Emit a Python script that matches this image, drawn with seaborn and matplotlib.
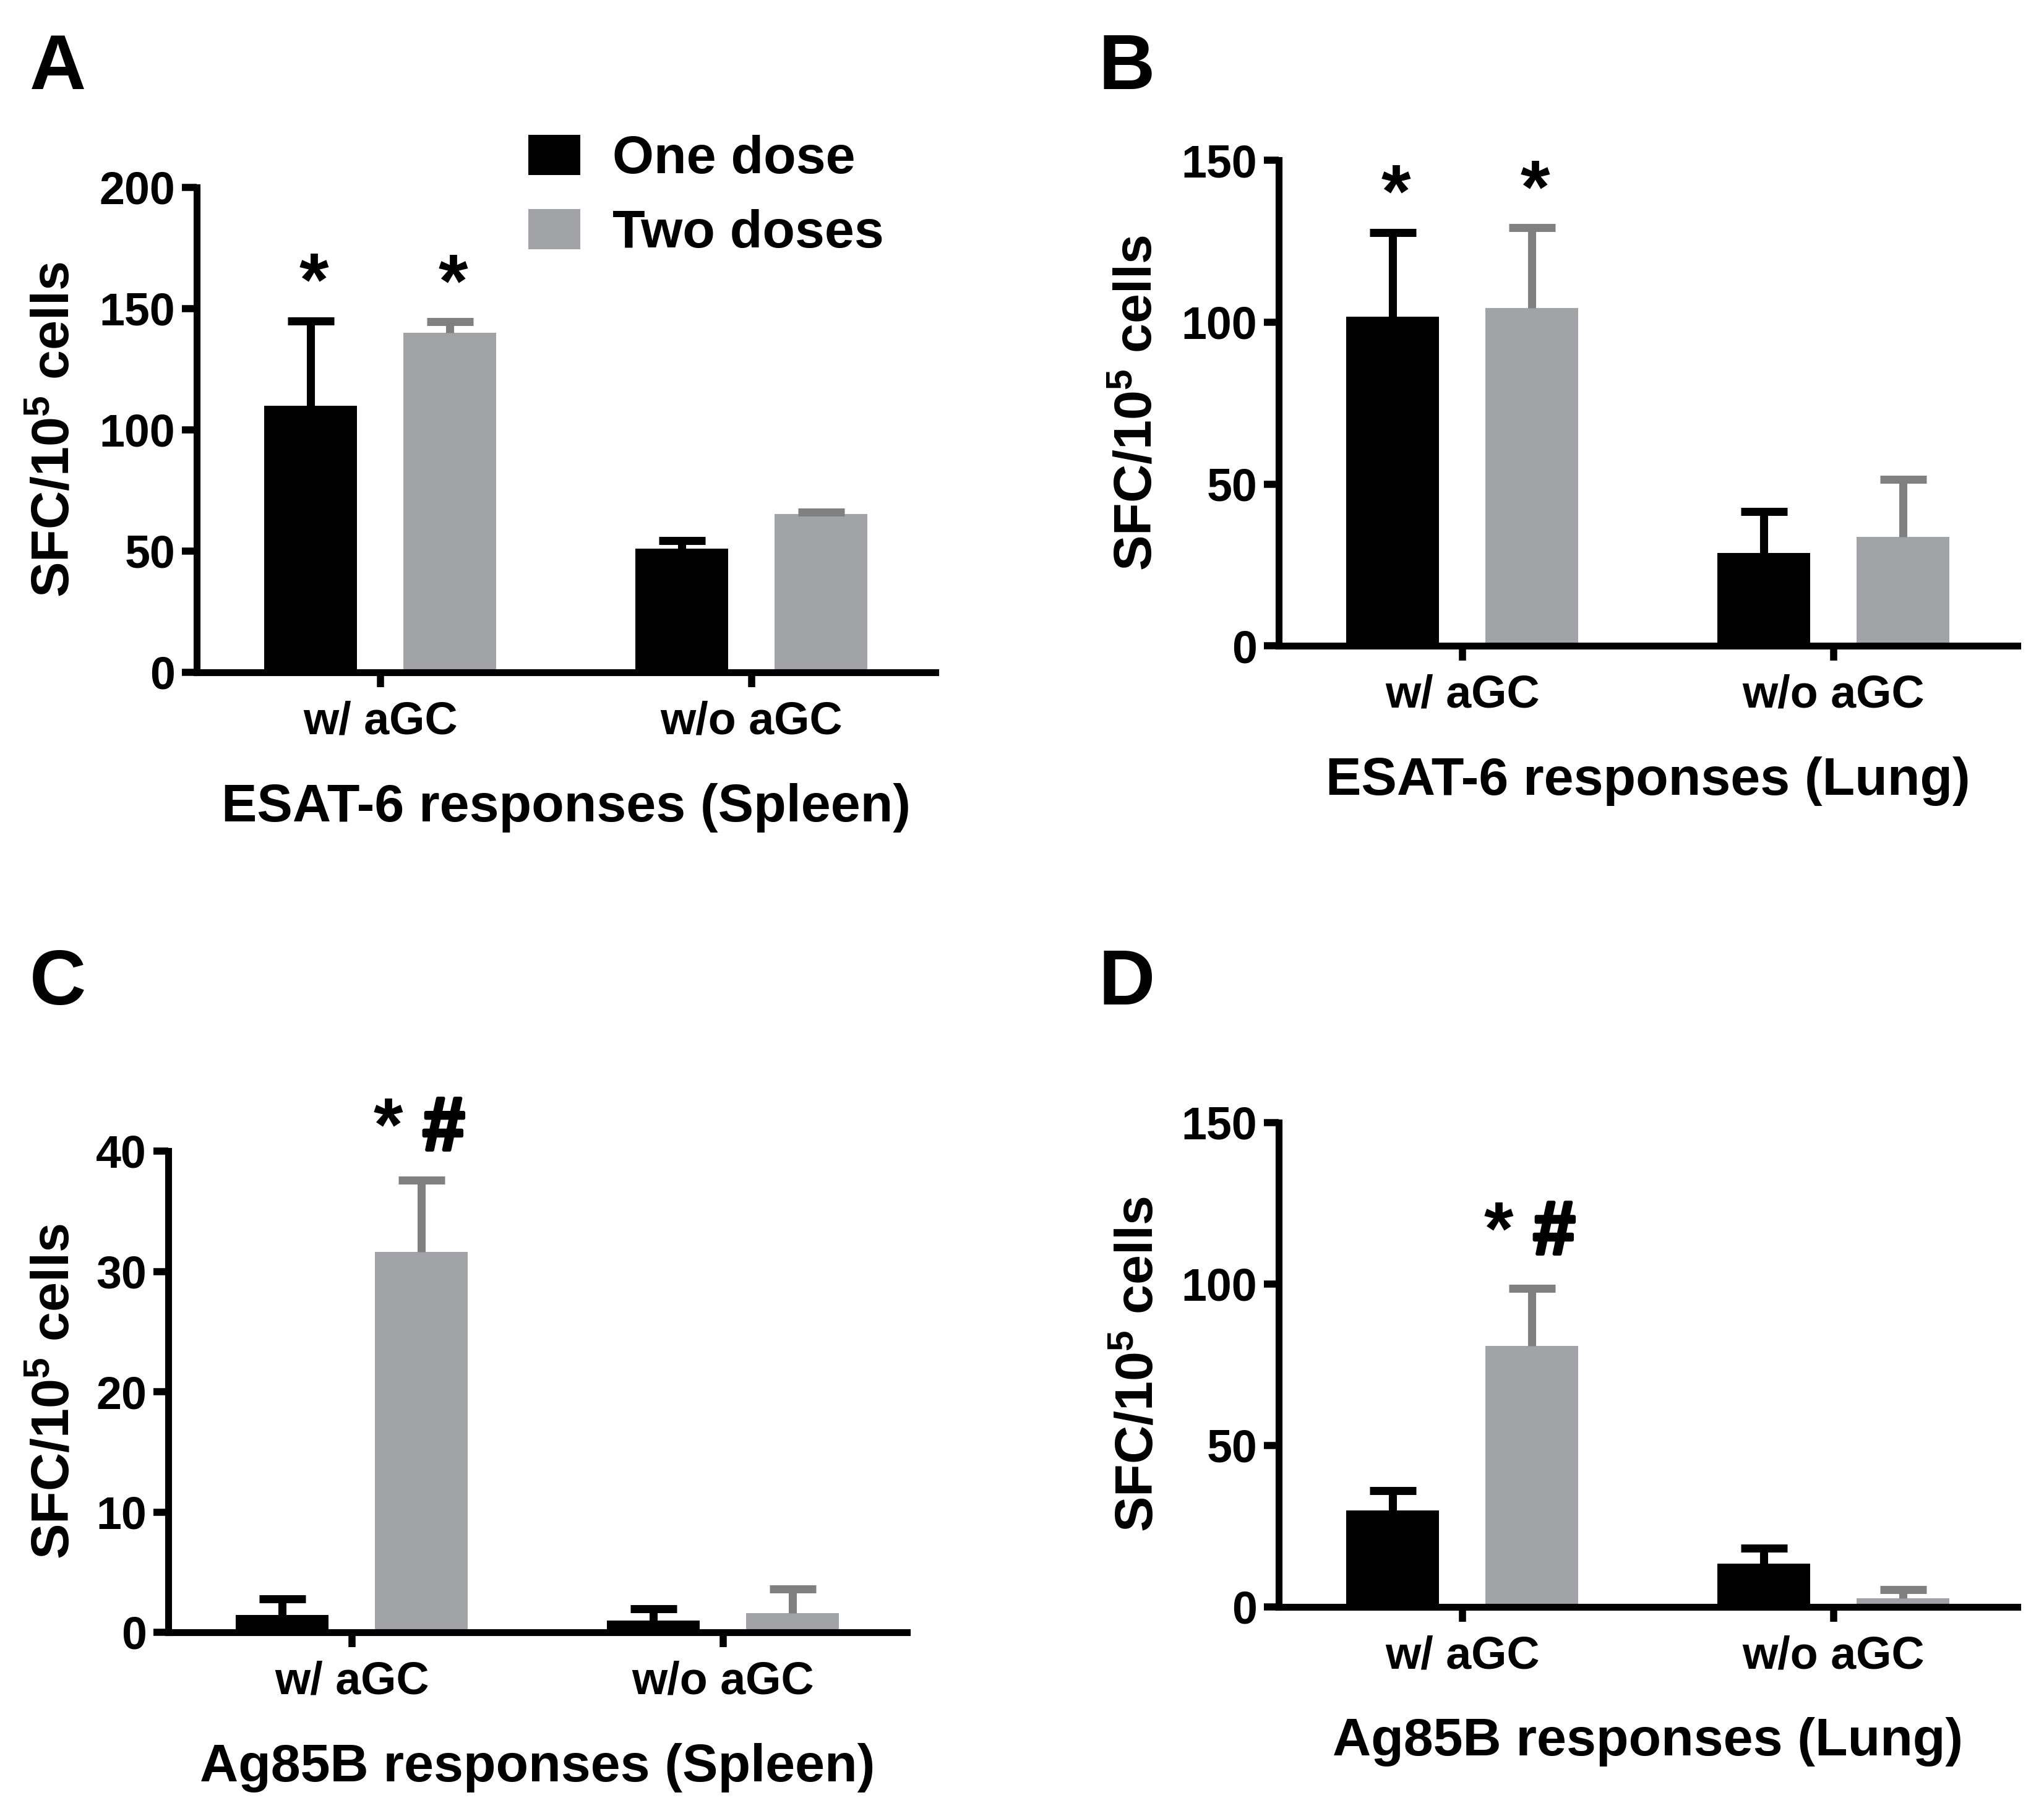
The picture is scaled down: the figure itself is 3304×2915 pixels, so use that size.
import numpy as np
import pandas as pd
import seaborn as sns
import matplotlib.pyplot as plt
import matplotlib.patheffects as pe

sns.set_theme(style='ticks')
plt.rcParams['font.family'] = ['Liberation Sans', 'DejaVu Sans']
plt.rcParams['font.weight'] = 'bold'
plt.rcParams['axes.labelweight'] = 'bold'
plt.rcParams['mathtext.default'] = 'regular'
plt.rcParams['text.color'] = 'black'
plt.rcParams['axes.labelcolor'] = 'black'
plt.rcParams['axes.edgecolor'] = 'black'
plt.rcParams['xtick.color'] = 'black'
plt.rcParams['ytick.color'] = 'black'

# ---------------------------- data (mean, upper SEM) ----------------------------
conditions = ['w/ aGC', 'w/o aGC']
doses = ['One dose', 'Two doses']

esat_spleen_one = [110, 51]
esat_spleen_one_err = [35, 3.3]
esat_spleen_two = [140, 65.3]
esat_spleen_two_err = [4.6, 0.8]

esat_lung_one = [101.7, 28.7]
esat_lung_one_err = [26.1, 12.8]
esat_lung_two = [104.4, 33.6]
esat_lung_two_err = [24.8, 17.8]

ag85_spleen_one = [1.43, 0.97]
ag85_spleen_one_err = [1.34, 0.97]
ag85_spleen_two = [31.6, 1.6]
ag85_spleen_two_err = [6.0, 2.0]

ag85_lung_one = [29.8, 13.3]
ag85_lung_one_err = [6.2, 4.8]
ag85_lung_two = [80.7, 2.6]
ag85_lung_two_err = [17.9, 2.7]

# significance marks per bar
marks_star = ['*', '']
marks_star_hash = ['* #', '']
marks_none = ['', '']

BLACK = '#000000'
GRAY = '#a2a3a7'
ERR_GRAY = '#808080'

# ---------------------------- figure ----------------------------
W, H = 3304, 2915
fig = plt.figure(figsize=(W / 100, H / 100), dpi=100)
AX_W = 1194


def add_axes_px(left, bottom, height):
    return fig.add_axes([left / W, 1 - bottom / H, AX_W / W, height / H])


def mark(ax, text, xy, dx, dy, stroke=False):
    t = ax.annotate(text, xy=xy, xytext=(dx, dy), textcoords='offset points',
                    ha='center', va='baseline', fontsize=88, fontweight='bold',
                    annotation_clip=False)
    if stroke:
        t.set_path_effects([pe.withStroke(linewidth=4, foreground='black')])


def draw_panel(ax, one, one_err, two, two_err, marks_one, marks_two,
               ymax, ystep, xlabel, ylab_px, height, hash_dy=33, legend=False):
    df = pd.DataFrame({'condition': conditions * 2,
                       'dose': np.repeat(doses, len(conditions)),
                       'sfc': one + two})
    sns.barplot(data=df, x='condition', y='sfc', hue='dose', hue_order=doses,
                palette=[BLACK, GRAY], width=0.75, gap=1 / 3, saturation=1,
                linewidth=0, errorbar=None, legend=legend, ax=ax)

    # one-sided error bars and significance marks
    for cont, errs, ecol, marks in zip(ax.containers, [one_err, two_err],
                                       [BLACK, ERR_GRAY], [marks_one, marks_two]):
        for bar, e, m in zip(cont, errs, marks):
            xc = bar.get_x() + bar.get_width() / 2
            top = bar.get_height()
            ax.vlines(xc, top, top + e, color=ecol, lw=9.4, zorder=3)
            ax.hlines(top + e, xc - bar.get_width() / 4, xc + bar.get_width() / 4,
                      color=ecol, lw=9.4, zorder=3)
            if m == '*':
                mark(ax, '*', (xc, top + e), 4, 18)
            elif m:
                mark(ax, '*', (xc, top + e), -39, hash_dy)
                mark(ax, '#', (xc, top + e), 26, hash_dy, stroke=True)

    ax.set_xlim(-0.495, 1.495)
    ax.set_ylim(0, ymax)
    ax.set_yticks(np.arange(0, ymax + 1, ystep))
    sns.despine(ax=ax)
    for s in ['left', 'bottom']:
        ax.spines[s].set_linewidth(8)
        ax.spines[s].set_color('black')
    ax.tick_params(axis='both', width=8.3, length=17, labelsize=53)
    ax.tick_params(axis='x', pad=16)
    ax.tick_params(axis='y', pad=8)

    ax.set_xlabel(xlabel, fontsize=62)
    ax.xaxis.set_label_coords(0.5, -241 / height)
    ax.xaxis.label.set_va('baseline')
    ax.set_ylabel('SFC/10$^{5}$ cells', fontsize=62)
    ax.yaxis.set_label_coords(-ylab_px / AX_W, 0.5)
    ax.yaxis.label.set_va('baseline')


# A
axA = add_axes_px(317.8, 1087, 784)
draw_panel(axA, esat_spleen_one, esat_spleen_one_err, esat_spleen_two, esat_spleen_two_err,
           marks_star, marks_star, 200, 50, 'ESAT-6 responses (Spleen)', 206, 784, legend=True)
sns.move_legend(axA, 'upper left', bbox_to_anchor=(0.2585, 0.9252),
                bbox_transform=fig.transFigure, title=None, frameon=False,
                fontsize=62, handlelength=0.98, handleheight=0.78,
                handletextpad=0.6, labelspacing=0.46, borderpad=0, borderaxespad=0)

# B
axB = add_axes_px(2066.7, 1044, 784.5)
draw_panel(axB, esat_lung_one, esat_lung_one_err, esat_lung_two, esat_lung_two_err,
           marks_star, marks_star, 150, 50, 'ESAT-6 responses (Lung)', 205, 784.5)

# C
axC = add_axes_px(271.7, 2639, 778)
draw_panel(axC, ag85_spleen_one, ag85_spleen_one_err, ag85_spleen_two, ag85_spleen_two_err,
           marks_none, marks_star_hash, 40, 10, 'Ag85B responses (Spleen)', 160, 778,
           hash_dy=35)

# D
axD = add_axes_px(2066.7, 2597.5, 783)
draw_panel(axD, ag85_lung_one, ag85_lung_one_err, ag85_lung_two, ag85_lung_two_err,
           marks_none, marks_star_hash, 150, 50, 'Ag85B responses (Lung)', 203, 783,
           hash_dy=40)

# panel letters
for letter, x, y in [('A', 48, 143.5), ('B', 1776, 143.5), ('C', 48, 1624), ('D', 1776, 1624)]:
    fig.text(x / W, 1 - y / H, letter, fontsize=91, fontweight='bold',
             ha='left', va='baseline')

fig.savefig('out.png', dpi=100)
